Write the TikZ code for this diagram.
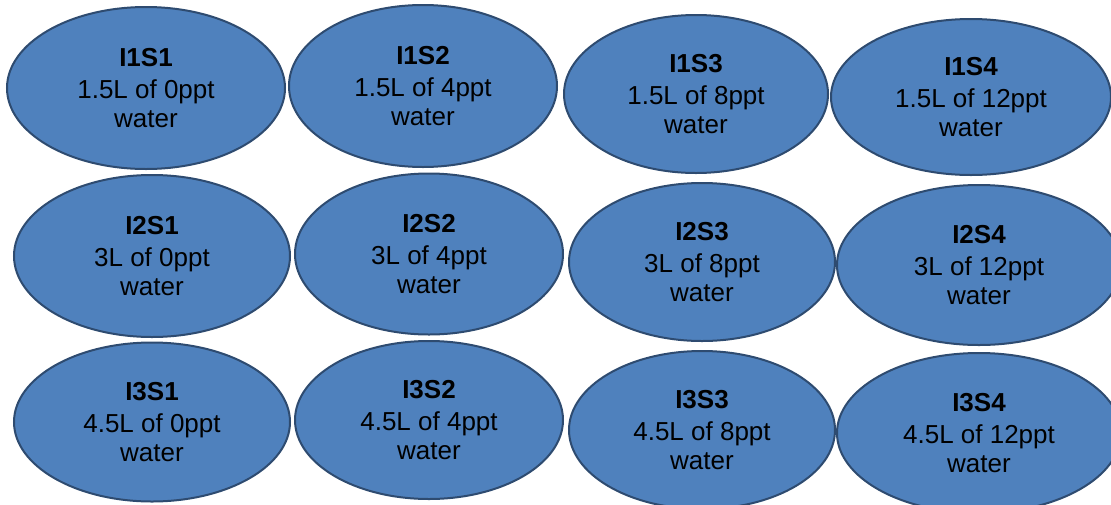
\documentclass[tikz,border=0pt]{standalone}
\usepackage{fontspec}
\setmainfont{Liberation Sans}
\usetikzlibrary{shapes.geometric}
\definecolor{ovfill}{HTML}{4F81BD}
\definecolor{ovline}{HTML}{2E4B70}
\begin{document}
\begin{tikzpicture}[x=1pt,y=-1pt,
  oval/.style={ellipse, draw=ovline, line width=2pt, fill=ovfill, inner sep=0pt,
    align=center, text=black, font=\fontsize{26}{29}\selectfont}]
\useasboundingbox[fill=white] (0,0) rectangle (1111,504);
\node[oval, minimum width=278pt, minimum height=162pt] (i1s1) at (146,88) {\textbf{I1S1}\\[3pt]1.5L of 0ppt\\water};
\node[oval, minimum width=268pt, minimum height=162pt] (i1s2) at (423,86) {\textbf{I1S2}\\[3pt]1.5L of 4ppt\\water};
\node[oval, minimum width=264pt, minimum height=158pt] (i1s3) at (696,94) {\textbf{I1S3}\\[3pt]1.5L of 8ppt\\water};
\node[oval, minimum width=280pt, minimum height=156pt] (i1s4) at (971,97) {\textbf{I1S4}\\[3pt]1.5L of 12ppt\\water};
\node[oval, minimum width=276pt, minimum height=162pt] (i2s1) at (152,256) {\textbf{I2S1}\\[3pt]3L of 0ppt\\water};
\node[oval, minimum width=268pt, minimum height=161pt] (i2s2) at (429,254) {\textbf{I2S2}\\[3pt]3L of 4ppt\\water};
\node[oval, minimum width=266pt, minimum height=158pt] (i2s3) at (702,262) {\textbf{I2S3}\\[3pt]3L of 8ppt\\water};
\node[oval, minimum width=284pt, minimum height=160pt] (i2s4) at (979,265) {\textbf{I2S4}\\[3pt]3L of 12ppt\\water};
\node[oval, minimum width=276pt, minimum height=159pt] (i3s1) at (152,422) {\textbf{I3S1}\\[3pt]4.5L of 0ppt\\water};
\node[oval, minimum width=268pt, minimum height=158pt] (i3s2) at (429,420) {\textbf{I3S2}\\[3pt]4.5L of 4ppt\\water};
\node[oval, minimum width=266pt, minimum height=158pt] (i3s3) at (702,430) {\textbf{I3S3}\\[3pt]4.5L of 8ppt\\water};
\node[oval, minimum width=284pt, minimum height=160pt] (i3s4) at (979,433) {\textbf{I3S4}\\[3pt]4.5L of 12ppt\\water};
\end{tikzpicture}
\end{document}
